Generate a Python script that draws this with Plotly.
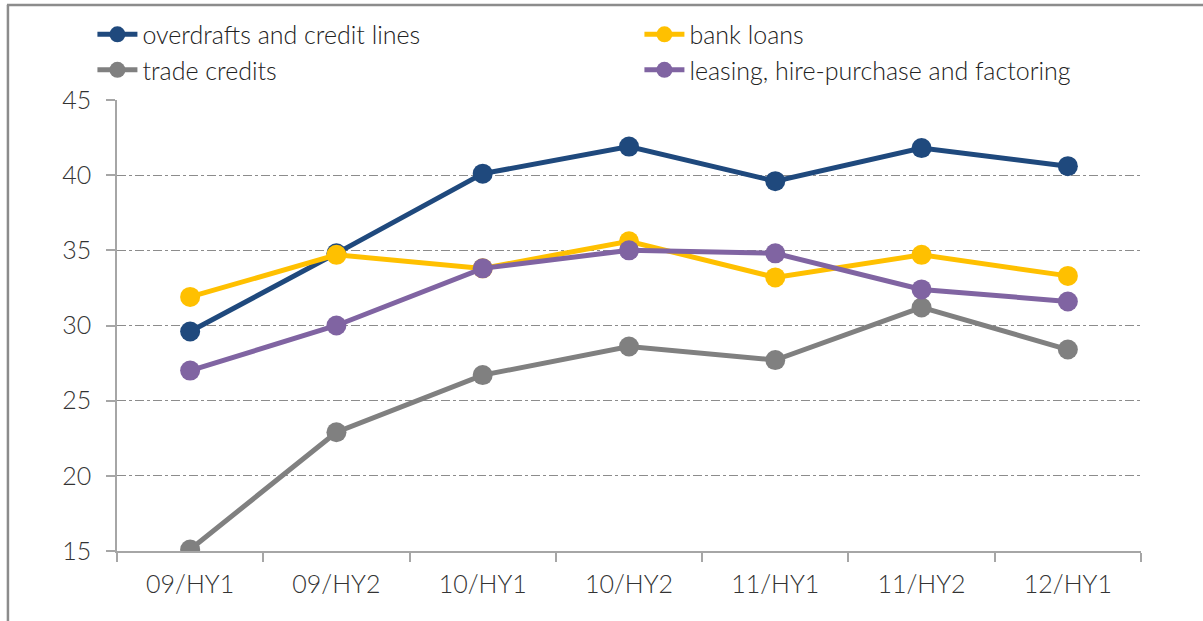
import plotly.graph_objects as go

periods = ["09/HY1", "09/HY2", "10/HY1", "10/HY2", "11/HY1", "11/HY2", "12/HY1"]
overdrafts = [29.6, 34.8, 40.1, 41.9, 39.6, 41.8, 40.6]
bank_loans = [31.9, 34.7, 33.8, 35.6, 33.2, 34.7, 33.3]
trade_credits = [15.1, 22.9, 26.7, 28.6, 27.7, 31.2, 28.4]
leasing = [27.0, 30.0, 33.8, 35.0, 34.8, 32.4, 31.6]

series = [
    ("overdrafts and credit lines", overdrafts, "#1F497D"),
    ("bank loans", bank_loans, "#FFC000"),
    ("trade credits", trade_credits, "#808080"),
    ("leasing, hire-purchase and factoring", leasing, "#8064A2"),
]

fig = go.Figure()
for name, vals, color in series:
    fig.add_trace(go.Scatter(
        x=periods, y=vals, name=name, mode="lines+markers",
        line=dict(color=color, width=5),
        marker=dict(color=color, size=20),
    ))

font_family = "Lato, 'DejaVu Sans', sans-serif"

fig.update_layout(
    width=1203, height=621,
    margin=dict(l=117, r=62, t=100, b=70, autoexpand=False),
    paper_bgcolor="white", plot_bgcolor="white",
    font=dict(family=font_family, size=24, color="#333333", weight=300),
    legend=dict(
        orientation="h", x=-0.024, y=1.196, xanchor="left", yanchor="top",
        entrywidth=492, font=dict(size=25, color="#222222", weight=300),
        itemwidth=40, tracegroupgap=0, bgcolor="rgba(0,0,0,0)",
    ),
    showlegend=True,
    shapes=[
        dict(type="line", xref="paper", yref="paper",
             x0=-0.1065, x1=-0.1065, y0=-0.16, y1=1.2106,
             line=dict(color="#8C8C8C", width=2.5)),
        dict(type="line", xref="paper", yref="paper",
             x0=-0.1075, x1=1.07, y0=1.2106, y1=1.2106,
             line=dict(color="#8C8C8C", width=2.5)),
    ],
)

fig.update_xaxes(
    type="category", range=[-0.5, len(periods) - 0.5],
    showgrid=False, showline=True,
    linecolor="#A6A6A6", linewidth=1.5,
    ticks="outside", tickson="boundaries", ticklen=9,
    tickcolor="#A6A6A6", tickwidth=1.5,
    tickfont=dict(size=25, color="#333333", weight=300),
    ticklabelstandoff=10,
)
fig.update_yaxes(
    range=[15, 45], dtick=5, tick0=15,
    showgrid=True, gridcolor="#8C8C8C", griddash="dashdot", gridwidth=1,
    showline=True, linecolor="#A6A6A6", linewidth=1.5,
    ticks="outside", ticklen=9, tickcolor="#A6A6A6", tickwidth=1.5,
    tickfont=dict(size=25, color="#333333", weight=300),
    ticklabelstandoff=10, zeroline=False,
)

fig.write_html("out.html", config={"displayModeBar": False},
               post_script="document.body.style.margin='0';")
